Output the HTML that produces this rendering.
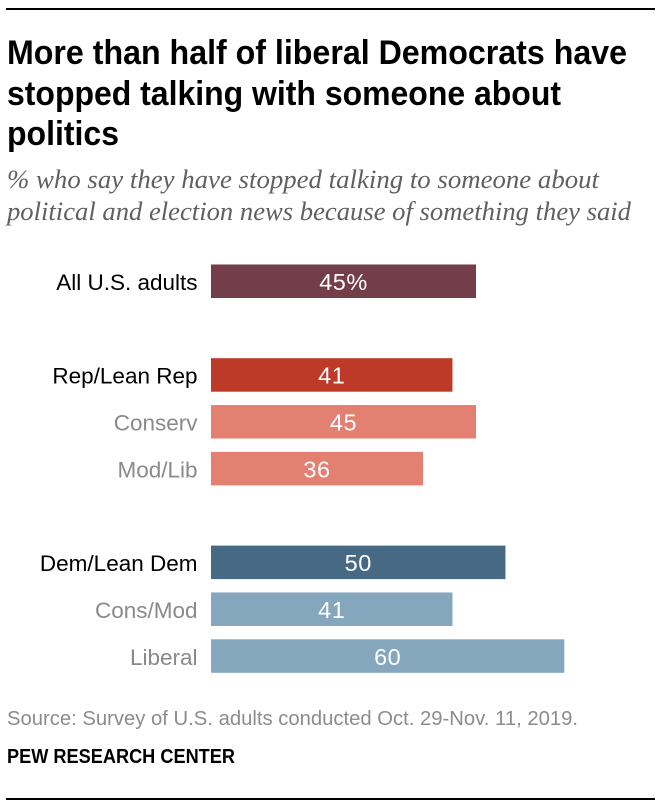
<!DOCTYPE html>
<html lang="en">
<head>
<meta charset="utf-8">
<title>More than half of liberal Democrats have stopped talking with someone about politics</title>
<style>
html,body{margin:0;padding:0;background:#fff;width:661px;height:809px;overflow:hidden}
svg{display:block}
text{font-family:"Liberation Sans",sans-serif}
.title{font-size:34px;font-weight:bold;fill:#000}
.sub{font-family:"Liberation Serif",serif;font-style:italic;font-size:26.5px;fill:#606060}
.source{font-size:20.5px;fill:#8c8c8c}
.pew{font-size:20.5px;font-weight:bold;fill:#000}
</style>
</head>
<body>
<svg id="chart" width="661" height="809" viewBox="0 0 661 809" xmlns="http://www.w3.org/2000/svg">
<rect x="6" y="8" width="649" height="2" fill="#000"/>
<g>
<text class="title" x="7" y="64" textLength="620" lengthAdjust="spacingAndGlyphs">More than half of liberal Democrats have</text>
<text class="title" x="7" y="105" textLength="554" lengthAdjust="spacingAndGlyphs">stopped talking with someone about</text>
<text class="title" x="7" y="145" textLength="112" lengthAdjust="spacingAndGlyphs">politics</text>
</g>
<g>
<text class="sub" x="7" y="188" textLength="592" lengthAdjust="spacingAndGlyphs">% who say they have stopped talking to someone about</text>
<text class="sub" x="7" y="220" textLength="624" lengthAdjust="spacingAndGlyphs">political and election news because of something they said</text>
</g>
<g id="bars"></g>
<text class="source" x="7" y="725" textLength="571" lengthAdjust="spacingAndGlyphs">Source: Survey of U.S. adults conducted Oct. 29-Nov. 11, 2019.</text>
<text class="pew" x="7" y="763" textLength="228" lengthAdjust="spacingAndGlyphs">PEW RESEARCH CENTER</text>
<rect x="6" y="798" width="649" height="2" fill="#000"/>
</svg>
<script>
const categories = ["All U.S. adults", "Rep/Lean Rep", "Conserv", "Mod/Lib", "Dem/Lean Dem", "Cons/Mod", "Liberal"];
const groups = [0, 1, 1, 1, 2, 2, 2];
const values = [45, 41, 45, 36, 50, 41, 60];
const valueSuffixes = ["%", "", "", "", "", "", ""];
const barColors = ["#733e49", "#bd3a28", "#e38072", "#e38072", "#466a84", "#85a7be", "#85a7be"];
const labelColors = ["#000000", "#000000", "#8a8a8a", "#8a8a8a", "#000000", "#8a8a8a", "#8a8a8a"];

const NS = "http://www.w3.org/2000/svg";
const root = document.getElementById("bars");
function xScale(v) { return 211 + v * (265 / 45); }
function yScale(i) { return 264.5 + (i + groups[i]) * 46.85; }
const barHeight = 33.5;

categories.forEach(function (name, i) {
  const slug = name.toLowerCase().replace(/[^a-z]+/g, "-");
  const y = yScale(i);

  const label = document.createElementNS(NS, "text");
  
  
  label.setAttribute("x", 197.5);
  label.setAttribute("y", y + 25.5);
  label.setAttribute("text-anchor", "end");
  label.setAttribute("font-size", "22.5");
  label.setAttribute("fill", labelColors[i]);
  label.textContent = name;
  root.appendChild(label);

  const bar = document.createElementNS(NS, "rect");
  
  
  bar.setAttribute("x", xScale(0));
  bar.setAttribute("y", y);
  bar.setAttribute("width", xScale(values[i]) - xScale(0));
  bar.setAttribute("height", barHeight);
  bar.setAttribute("fill", barColors[i]);
  root.appendChild(bar);

  const val = document.createElementNS(NS, "text");
  
  
  val.setAttribute("x", (xScale(0) + xScale(values[i])) / 2);
  val.setAttribute("y", y + 25.5);
  val.setAttribute("text-anchor", "middle");
  val.setAttribute("font-size", "23.5");
  val.setAttribute("letter-spacing", "0.5");
  val.setAttribute("fill", "#ffffff");
  val.textContent = values[i] + valueSuffixes[i];
  root.appendChild(val);
});
</script>
</body>
</html>
